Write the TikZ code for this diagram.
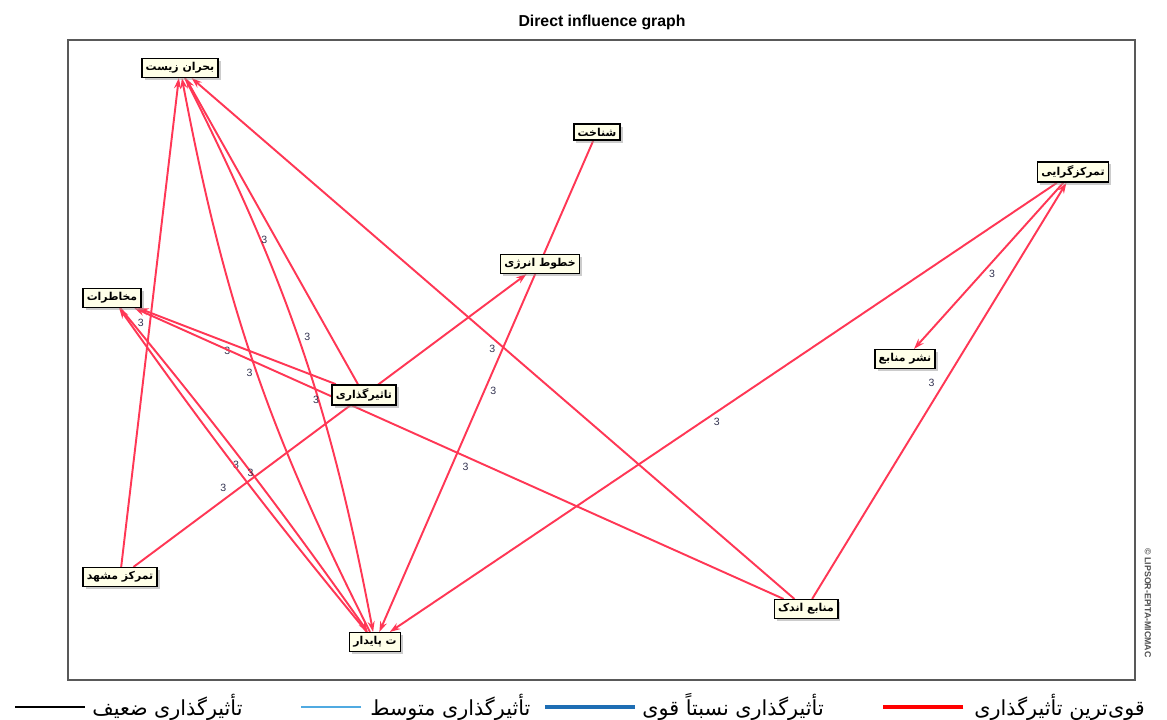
\documentclass[tikz,border=0pt]{standalone}
\usepackage{fontspec}
\setmainfont{Liberation Sans}
\newfontfamily\arabicfont[Script=Arabic]{DejaVu Sans}
\usetikzlibrary{arrows.meta,shadows,backgrounds}
\TeXXeTstate=1
\newcommand{\fatxt}[1]{{\arabicfont\beginR #1\endR}}
\definecolor{edgered}{RGB}{255,55,85}
\definecolor{boxfill}{RGB}{255,255,232}
\definecolor{lblcol}{RGB}{50,50,80}
\definecolor{legblue}{RGB}{30,110,180}
\definecolor{leglight}{RGB}{80,170,225}

\begin{document}
\begin{tikzpicture}[x=0.02cm,y=-0.02cm]
    \tikzstyle{var}=[rectangle,draw=black,line width=0.8pt,fill=boxfill,inner sep=2.2pt,font=\fontsize{6.2}{7}\selectfont\bfseries,drop shadow={shadow xshift=1.5pt,shadow yshift=-1.5pt,fill=gray!80}]
    \tikzstyle{infl}=[draw=edgered,line width=1.1pt,-{Stealth[length=6pt,width=4pt]}]
    \tikzstyle{lbl}=[font=\fontsize{6}{7}\selectfont,text=lblcol,inner sep=1pt]
    \tikzstyle{legtxt}=[font=\fontsize{11.8}{13}\selectfont,anchor=west,inner sep=0pt]

    \useasboundingbox (0,0) rectangle (1167,720);
    \draw[gray!70!black,line width=0.7pt] (68,40) rectangle (1135,680);
    \node[font=\fontsize{9}{10}\selectfont\bfseries] (title) at (602,22) {Direct influence graph};
    \node[rotate=-90,font=\fontsize{5}{6}\selectfont\bfseries,text=gray!60!black] (copyr) at (1148,603) {\textcopyright{} LIPSOR-EPITA-MICMAC};

    \node[var] (bohran)   at (180,68)  {\fatxt{بحران زیست}};
    \node[var] (makhatar) at (112,298) {\fatxt{مخاطرات}};
    \node[var] (tasir)    at (364,395) {\fatxt{تاثیرگذاری}};
    \node[var] (khotut)   at (540,264) {\fatxt{خطوط انرژی}};
    \node[var] (shenakht) at (597,132) {\fatxt{شناخت}};
    \node[var] (tamarkoz) at (1073,172) {\fatxt{تمرکزگرایی}};
    \node[var] (nashr)    at (905,359) {\fatxt{نشر منابع}};
    \node[var] (manabe)   at (806,609) {\fatxt{منابع اندک}};
    \node[var] (mashhad)  at (120,577) {\fatxt{تمرکز مشهد}};
    \node[var] (paydar)   at (375,642) {\fatxt{ت پایدار}};

    \begin{scope}[on background layer]
        \draw[infl] (mashhad) -- node[lbl,pos=.5,left=2pt] {3} (bohran);
        \draw[infl] (bohran) to[bend left=8] node[lbl,pos=.48,right=2pt] {3} (paydar);
        \draw[infl] (paydar) to[bend left=8] node[lbl,pos=.48,left=1pt] {3} (bohran);
        \draw[infl] (tasir) -- node[lbl,pos=.47,left=4pt] {3} (bohran);
        \draw[infl] (manabe) -- node[lbl,pos=.48,left=4pt] {3} (bohran);
        \draw[infl] (tasir) -- node[lbl,pos=.52,below left=0pt] {3} (makhatar);
        \draw[infl] (manabe) -- node[lbl,pos=.49,below=2pt] {3} node[lbl,pos=.72,below=2pt] {3} (makhatar);
        \draw[infl] (makhatar) to[bend left=2] node[lbl,pos=.49,left=2pt] {3} (paydar);
        \draw[infl] (paydar) to[bend left=2] node[lbl,pos=.5,right=3pt] {3} (makhatar);
        \draw[infl] (mashhad) -- node[lbl,pos=.27,left=6pt] {3} (khotut);
        \draw[infl] (shenakht) -- node[lbl,pos=.51,right=2pt] {3} (paydar);
        \draw[infl] (tamarkoz) -- node[lbl,pos=.51,below=2pt] {3} (paydar);
        \draw[infl] (tamarkoz) -- node[lbl,pos=.55,right=3pt] {3} (nashr);
        \draw[infl] (manabe) -- node[lbl,pos=.52,left=4pt] {3} (tamarkoz);
    \end{scope}

    \node[legtxt] (legA) at (974,707) {\fatxt{قوی‌ترین تأثیرگذاری}};
    \node[legtxt] (legB) at (642,707) {\fatxt{تأثیرگذاری نسبتاً قوی}};
    \node[legtxt] (legC) at (370,707) {\fatxt{تأثیرگذاری متوسط}};
    \node[legtxt] (legD) at (92,707)  {\fatxt{تأثیرگذاری ضعیف}};
    \draw[red,line width=2.4pt] ([xshift=-6pt]legA.west) -- ++(-80,0);
    \draw[legblue,line width=1.8pt] ([xshift=-4pt]legB.west) -- ++(-90,0);
    \draw[leglight,line width=0.8pt] ([xshift=-5pt]legC.west) -- ++(-60,0);
    \draw[black,line width=0.6pt] ([xshift=-4pt]legD.west) -- ++(-70,0);
\end{tikzpicture}
\end{document}
